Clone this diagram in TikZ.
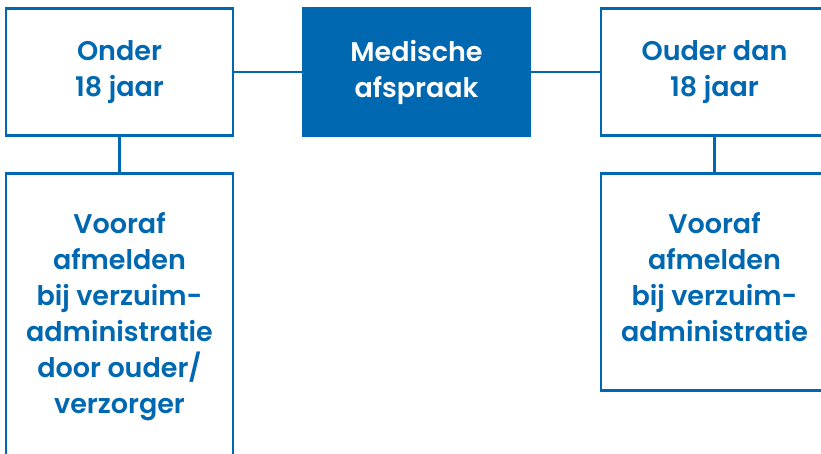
\documentclass[tikz,border=0pt]{standalone}
\usepackage{fontspec}
\setmainfont{Poppins SemiBold}
\usepackage{tikz}
\usetikzlibrary{positioning}
\definecolor{blauw}{HTML}{0067B1}

\begin{document}
\begin{tikzpicture}[
  x=1pt, y=-1pt,
  font=\fontsize{27}{36}\selectfont,
  kader/.style={draw=blauw, line width=2.2pt, text=blauw, align=center,
    inner sep=0pt, minimum width=227pt},
  hoofd/.style={fill=blauw, text=white, align=center, inner sep=0pt,
    minimum width=229pt, minimum height=130pt},
  lijn/.style={blauw, line width=2.2pt}
]
\useasboundingbox (0,0) rectangle (821,454);
\clip (0,0) rectangle (821,454);
\node[hoofd] (afspraak) at (416.5,72) {Medische\\afspraak};
\node[kader, minimum height=127pt] (onder) at (119.5,72) {Onder\\18 jaar};
\node[kader, minimum height=127pt] (ouder) at (714.5,72) {Ouder dan\\18 jaar};
\node[kader, minimum height=290pt, text depth=12pt, below=35.8pt of onder] (afmeldonder)
  {Vooraf\\afmelden\\bij verzuim-\\administratie\\door ouder/\\verzorger};
\node[kader, minimum height=217pt, text depth=10pt, below=35.8pt of ouder] (afmeldouder)
  {Vooraf\\afmelden\\bij verzuim-\\administratie};
\draw[lijn] (onder) -- (afspraak);
\draw[lijn] (afspraak) -- (ouder);
\draw[lijn] (onder) -- (afmeldonder);
\draw[lijn] (ouder) -- (afmeldouder);
\end{tikzpicture}
\end{document}
